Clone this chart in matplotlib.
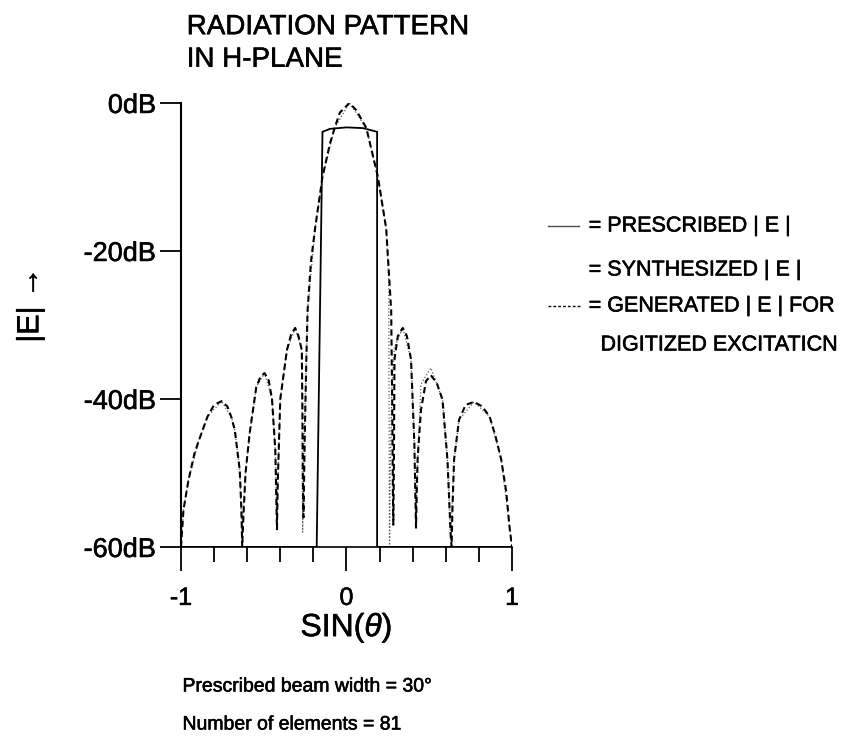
import matplotlib
matplotlib.use("Agg")
import matplotlib.pyplot as plt
import matplotlib.patheffects as pe
from matplotlib.ticker import FixedLocator

plt.rcParams['font.family'] = ['Liberation Sans', 'DejaVu Sans']
plt.rcParams['mathtext.fontset'] = 'custom'
plt.rcParams['mathtext.it'] = 'Liberation Sans:italic'
plt.rcParams['mathtext.rm'] = 'Liberation Sans'

# prescribed |E| : flat-topped beam (dB)
presc_u = [-1.0, -0.18, -0.145, -0.10, 0.0, 0.10, 0.185, 0.185, 1.0]
presc_db = [-60, -60, -3.9, -3.5, -3.3, -3.4, -3.9, -60, -60]

# generated |E| for digitized excitation (dB)
gen_u = [-1.0, -0.985, -0.955, -0.92, -0.895, -0.84, -0.80, -0.755, -0.72, -0.695,
         -0.675, -0.645, -0.635, -0.63,
         -0.625, -0.61, -0.585, -0.545, -0.52, -0.495, -0.47, -0.45, -0.43, -0.42,
         -0.415, -0.40, -0.36, -0.335, -0.31, -0.29, -0.27, -0.266, -0.264,
         -0.26, -0.252, -0.243, -0.235, -0.215, -0.19, -0.145, -0.10, -0.072, -0.04,
         0.018, 0.06, 0.12, 0.19, 0.24, 0.27,
         0.276, 0.28, 0.283, 0.286, 0.29, 0.31, 0.34, 0.365, 0.39, 0.41, 0.42,
         0.425, 0.43, 0.45, 0.48, 0.51, 0.545, 0.58, 0.61, 0.63,
         0.635, 0.64, 0.65, 0.68, 0.72, 0.77, 0.82, 0.865, 0.90, 0.935, 0.965, 0.985, 1.0]
gen_db = [-60, -55, -51, -47.5, -45.8, -42.4, -40.8, -40.3, -41.0, -42.5,
          -44.2, -49.6, -55, -60,
          -57, -50, -44.6, -38.4, -37.0, -36.5, -37.5, -40, -47, -57.6,
          -51, -40, -33.4, -31.3, -30.4, -31.5, -33.4, -42, -50,
          -56, -45, -35, -28, -21.5, -17, -10, -5.5, -3.4, -1.3,
          0.0, -1.0, -3.4, -10, -17, -28,
          -40, -52, -57, -50, -34.7, -31.5, -30.4, -31.5, -34.7, -46, -57.4,
          -52, -48, -41.5, -37.6, -36.8, -37.8, -40.1, -48.2, -58.6,
          -60, -55, -48.2, -42.8, -40.8, -40.4, -41.0, -42.4, -45, -48.2, -52.5, -57.3, -60]

# synthesized |E| (dB)
syn_u = [-1.0, -0.985, -0.955, -0.895, -0.84, -0.755, -0.695, -0.675, -0.645, -0.632,
         -0.61, -0.585, -0.545, -0.495, -0.45, -0.43, -0.422,
         -0.40, -0.36, -0.31, -0.27, -0.268, -0.265,
         -0.255, -0.235, -0.19, -0.145, -0.072, 0.018, 0.12, 0.19, 0.24, 0.255, 0.26,
         0.264, 0.275, 0.29, 0.34, 0.39, 0.41, 0.42,
         0.43, 0.45, 0.51, 0.58, 0.61, 0.63, 0.65, 0.68, 0.77, 0.865, 0.935, 1.0]
syn_db = [-60, -55, -51, -45.8, -42.4, -40.3, -42.5, -44.2, -49.6, -58,
          -50, -44.6, -38.4, -36.5, -40, -47, -57,
          -40, -33.4, -30.4, -33.4, -45, -58,
          -45, -28, -17, -10, -3.4, 0.0, -3.4, -10, -17, -24, -60,
          -50, -38, -33, -30.4, -34.7, -46, -57.4,
          -48, -38, -35.8, -40.1, -48.2, -59, -48.2, -42.8, -40.4, -42.4, -48.2, -60]

fig = plt.figure(figsize=(8.41, 7.45), dpi=100)
ax = fig.add_axes([0.2152, 0.2658, 0.3936, 0.5960])

ax.plot(presc_u, presc_db, color='black', lw=1.3, solid_joinstyle='miter')
ax.plot(syn_u, syn_db, color='0.35', lw=0.9, linestyle=':')
ax.plot(gen_u, gen_db, color='black', lw=1.5, linestyle=(0, (3.0, 1.8)))

ax.set_xlim(-1, 1)
ax.set_ylim(-60, 0)
ax.spines['top'].set_visible(False)
ax.spines['right'].set_visible(False)
ax.spines['left'].set_linewidth(1.5)
ax.spines['bottom'].set_linewidth(1.2)

# slightly heavier text strokes, like the printed lettering
heavy = [pe.withStroke(linewidth=0.4, foreground='black')]

ax.set_xticks([-1, 0, 1])
ax.set_xticklabels(['-1', '0', '1'], fontsize=18)
ax.xaxis.set_minor_locator(FixedLocator([-0.8, -0.6, -0.4, -0.2, 0.2, 0.4, 0.6, 0.8]))
ax.tick_params(axis='x', which='major', direction='out', length=17, width=1.3, pad=11)
ax.tick_params(axis='x', which='minor', direction='out', length=11, width=1.3)

ax.set_yticks([0, -20, -40, -60])
ax.set_yticklabels(['0dB', '-20dB', '-40dB', '-60dB'], fontsize=19.5)
ax.tick_params(axis='y', direction='out', length=15, width=1.3, pad=3)

for lab in ax.get_xticklabels() + ax.get_yticklabels():
    lab.set_path_effects(heavy)

ax.set_xlabel(r'SIN($\theta$)', fontsize=23, labelpad=1, path_effects=heavy)

fig.text(0.222, 0.981, 'RADIATION PATTERN\nIN H-PLANE', fontsize=20,
         ha='left', va='top', linespacing=1.33, path_effects=heavy)
fig.text(0.036, 1 - 305 / 745, '|E| \u2192', fontsize=22, rotation=90,
         ha='center', va='center', path_effects=heavy)

# legend drawn by hand
lx = 0.700
fig.add_artist(plt.Line2D([0.652, 0.688], [1 - 226 / 745] * 2, color='0.3', lw=1.0))
fig.text(lx, 1 - 226 / 745, '= PRESCRIBED | E |', fontsize=15.5, va='center',
         path_effects=heavy)
fig.text(lx, 1 - 270 / 745, '= SYNTHESIZED | E |', fontsize=15.5, va='center',
         path_effects=heavy)
fig.add_artist(plt.Line2D([0.652, 0.690], [1 - 306 / 745] * 2, color='black',
                          lw=1.0, linestyle=(0, (2, 1.5))))
fig.text(lx, 1 - 306 / 745, '= GENERATED | E | FOR', fontsize=15.5, va='center',
         path_effects=heavy)
fig.text(0.714, 1 - 345 / 745, 'DIGITIZED EXCITATICN', fontsize=15.5, va='center',
         path_effects=heavy)

fig.text(0.217, 1 - 687 / 745, 'Prescribed beam width = 30\u00b0', fontsize=14,
         va='center', path_effects=heavy)
fig.text(0.217, 1 - 725 / 745, 'Number of elements = 81', fontsize=14,
         va='center', path_effects=heavy)

fig.savefig('out.png', dpi=100)
